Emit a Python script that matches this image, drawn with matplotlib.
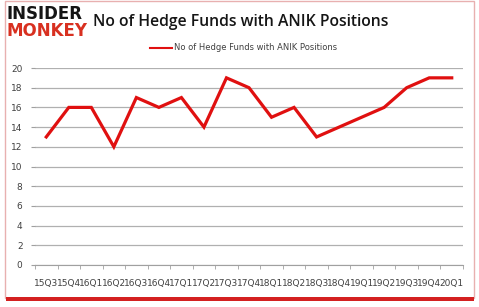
import matplotlib
matplotlib.use("Agg")
from matplotlib import pyplot as plt
from matplotlib.patches import Rectangle

quarters = ["15Q3", "15Q4", "16Q1", "16Q2", "16Q3", "16Q4", "17Q1", "17Q2", "17Q3", "17Q4",
            "18Q1", "18Q2", "18Q3", "18Q4", "19Q1", "19Q2", "19Q3", "19Q4", "20Q1"]
funds = [13, 16, 16, 12, 17, 16, 17, 14, 19, 18, 15, 16, 13, 14, 15, 16, 18, 19, 19]
yticks = [0, 2, 4, 6, 8, 10, 12, 14, 16, 18, 20]

W, H = 479, 307
fig = plt.figure(figsize=(W / 100, H / 100), dpi=100)
fig.patch.set_facecolor("white")

# frame with red shadow at bottom
fig.patches.append(Rectangle((5 / W, 9 / H), 469 / W, 297 / H, transform=fig.transFigure,
                             facecolor="none", edgecolor="#e8b0b0", lw=1.0))
fig.patches.append(Rectangle((6 / W, 6 / H), 468 / W, 4 / H, transform=fig.transFigure,
                             facecolor="#d42020", edgecolor="none"))

ax = fig.add_axes([35 / W, 1 - 265 / H, 428 / W, 197 / H])
x = list(range(len(quarters)))
ax.plot(x, funds, color="#e01010", lw=2.3, solid_joinstyle="miter")
ax.set_xlim(-0.5, len(quarters) - 0.5)
ax.set_ylim(0, 20)
ax.set_yticks(yticks)
ax.set_yticklabels([str(v) for v in yticks], fontsize=6.5, color="#404040")
ax.set_xticks(x)
ax.set_xticklabels(quarters, fontsize=6.5, color="#404040")
ax.set_xticks([i - 0.5 for i in range(len(quarters) + 1)], minor=True)
ax.tick_params(axis="x", which="major", length=0, pad=10)
ax.tick_params(axis="x", which="minor", length=3, color="#a0a0a0")
ax.tick_params(axis="y", length=3, color="#a0a0a0", pad=6)
ax.grid(axis="y", color="#b0b0b0", lw=0.9)
ax.set_axisbelow(True)
for s in ["top", "right", "left"]:
    ax.spines[s].set_visible(False)
ax.spines["bottom"].set_color("#a0a0a0")

fig.text(93 / W, 1 - 22 / H, "No of Hedge Funds with ANIK Positions", fontsize=11.3,
         fontweight="semibold", va="center", ha="left", color="#151515", family="Open Sans")
fig.text(6 / W, 1 - 14 / H, "INSIDER", fontsize=12, fontweight="black", va="center",
         ha="left", color="#151515")
fig.text(6 / W, 1 - 31 / H, "MONKEY", fontsize=12, fontweight="black", va="center",
         ha="left", color="#d83020")

fig.lines.append(plt.Line2D([150 / W, 172 / W], [1 - 48 / H, 1 - 48 / H],
                            transform=fig.transFigure, color="#e01010", lw=1.5))
fig.text(174 / W, 1 - 48 / H, "No of Hedge Funds with ANIK Positions", fontsize=6,
         va="center", ha="left", color="#404040")

fig.savefig("out.png", dpi=100)
